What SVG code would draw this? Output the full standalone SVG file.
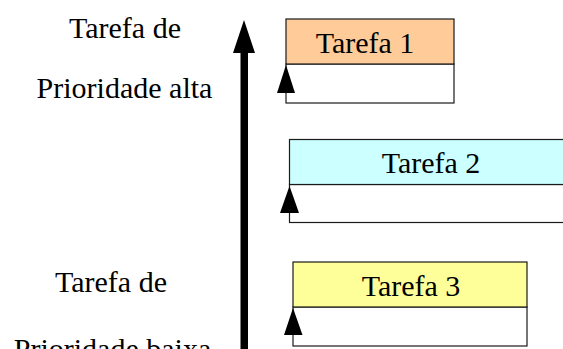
<svg xmlns="http://www.w3.org/2000/svg" width="563" height="349" viewBox="0 0 563 349">
<style>
.t{font-family:"Liberation Serif","Times New Roman",serif;font-size:30px;fill:#000;text-anchor:middle}
.box{stroke:#1a1a1a;stroke-width:1.2}
.low{fill:#fff;stroke:#1a1a1a;stroke-width:1.2}
.ah{fill:#000}
</style>
<rect width="563" height="349" fill="#fff"/>
<g id="label-high">
<text class="t" x="125" y="38">Tarefa de</text>
<text class="t" x="124.5" y="98">Prioridade alta</text>
</g>
<g id="label-low">
<text class="t" x="111" y="292">Tarefa de</text>
<text class="t" x="112.5" y="359">Prioridade baixa</text>
</g>
<g id="tarefa1">
<rect class="low" x="286" y="64" width="168" height="39"/>
<rect class="box" x="286" y="19" width="168" height="45" fill="#ffcc99"/>
<text class="t" x="365" y="53">Tarefa 1</text>
</g>
<g id="tarefa2">
<rect class="low" x="289.5" y="184.5" width="290" height="38"/>
<rect class="box" x="289.5" y="139.5" width="290" height="45" fill="#ccffff"/>
<text class="t" x="431" y="173">Tarefa 2</text>
</g>
<g id="tarefa3">
<rect class="low" x="293" y="307" width="234" height="39"/>
<rect class="box" x="293" y="262" width="234" height="45" fill="#ffff99"/>
<text class="t" x="411" y="296">Tarefa 3</text>
</g>
<g id="connectors">
<polygon class="ah" points="244,20 233,53 255,53"/>
<rect class="ah" x="240.5" y="52" width="7.5" height="300"/>
<polygon class="ah" points="286,65 277,93 295,93"/>
<polygon class="ah" points="289.5,186 280,213 299,213"/>
<polygon class="ah" points="293,308 284,335 302.5,335"/>
</g>
</svg>
